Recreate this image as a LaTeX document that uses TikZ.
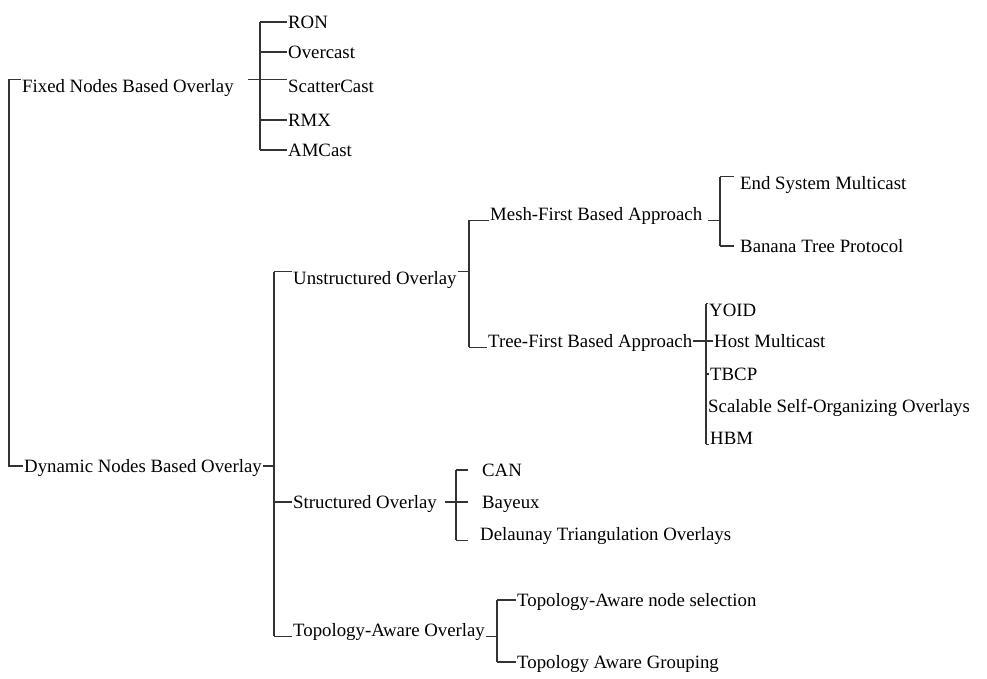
\documentclass[tikz,border=0pt]{standalone}
\usepackage{fontspec}
\setmainfont{Liberation Serif}
\begin{document}
\begin{tikzpicture}[x=1pt,y=-1pt,
  lbl/.style={anchor=west,inner xsep=1pt,inner ysep=0pt,text height=12.4pt,text depth=0pt,font=\fontsize{18.8}{22}\selectfont},
  conn/.style={line width=1.1pt,draw=black!80}]
\useasboundingbox (0,0) rectangle (987,678);
% level 1
\node[lbl] (fixed) at (21,86) {Fixed Nodes Based Overlay};
\node[lbl] (dyn) at (23,466) {Dynamic Nodes Based Overlay};
% fixed children
\node[lbl] (ron) at (287,22) {RON};
\node[lbl] (over) at (287,52) {Overcast};
\node[lbl] (scat) at (287,86) {ScatterCast};
\node[lbl] (rmx) at (287,120) {RMX};
\node[lbl] (amc) at (287,150) {AMCast};
% dynamic children
\node[lbl] (unstr) at (292,278) {Unstructured Overlay};
\node[lbl] (str) at (292,502) {Structured Overlay};
\node[lbl] (topo) at (292,630) {Topology-Aware Overlay};
% unstructured children
\node[lbl] (mesh) at (489,214) {Mesh-First Based Approach};
\node[lbl] (tree) at (487,341) {Tree-First Based Approach};
% mesh children
\node[lbl] (esm) at (739,183) {End System Multicast};
\node[lbl] (ban) at (739,246) {Banana Tree Protocol};
% tree children
\node[lbl] (yoid) at (708,310) {YOID};
\node[lbl] (host) at (713,341) {Host Multicast};
\node[lbl] (tbcp) at (709,374) {TBCP};
\node[lbl] (scal) at (707,406) {Scalable Self-Organizing Overlays};
\node[lbl] (hbm) at (709,438) {HBM};
% structured children
\node[lbl] (can) at (481,470) {CAN};
\node[lbl] (bay) at (481,502) {Bayeux};
\node[lbl] (del) at (479,534) {Delaunay Triangulation Overlays};
% topology children
\node[lbl] (tsel) at (516,600) {Topology-Aware node selection};
\node[lbl] (tgrp) at (516,662) {Topology Aware Grouping};

% junction columns
\coordinate (root) at (9,300);
\coordinate (jf) at (260,0);
\coordinate (jd) at (274,0);
\coordinate (ju) at (469,0);
\coordinate (jm) at (720,0);
\coordinate (jt) at (706,0);
\coordinate (js) at (456,0);
\coordinate (jo) at (497,0);

% root
\draw[conn] (fixed.north west) -| (root) |- (dyn.west);
% fixed
\draw[conn] ([xshift=13pt]fixed.north east) -- (scat.north west);
\draw[conn] (jf |- ron.west) -- (jf |- amc.west);
\foreach \c in {ron,over,rmx,amc} \draw[conn] (jf |- \c.west) -- (\c.west);
% dynamic
\draw[conn] (dyn.east) -- (jd |- dyn.east);
\draw[conn] (jd |- unstr.north west) -- (jd |- topo.south west);
\draw[conn] (jd |- unstr.north west) -- (unstr.north west);
\draw[conn] (jd |- str.west) -- (str.west);
\draw[conn] (jd |- topo.south west) -- (topo.south west);
% unstructured
\draw[conn] (unstr.north east) -- (ju |- unstr.north east);
\draw[conn] (ju |- mesh.south west) -- (ju |- tree.south west);
\draw[conn] (ju |- mesh.south west) -- (mesh.south west);
\draw[conn] (ju |- tree.south west) -- (tree.south west);
% mesh
\draw[conn] ([xshift=5pt]mesh.south east) -- (jm |- mesh.south east);
\draw[conn] (jm |- esm.north west) -- (jm |- ban.west);
\draw[conn] (jm |- esm.north west) -- ([xshift=-5pt]esm.north west);
\draw[conn] (jm |- ban.west) -- ([xshift=-5pt]ban.west);
% tree
\draw[conn] (tree.east) -- (host.west);
\draw[conn] (jt |- yoid.north west) -- (jt |- hbm.south west);
\draw[conn] (jt |- yoid.north west) -- (yoid.north west);
\draw[conn] (jt |- tbcp.west) -- (tbcp.west);
\draw[conn] (jt |- scal.north west) -- (scal.north west);
\draw[conn] (jt |- hbm.south west) -- (hbm.south west);
% structured
\draw[conn] ([xshift=7pt]str.east) -- ([xshift=-13pt]bay.west);
\draw[conn] (js |- can.west) -- (js |- del.south west);
\draw[conn] (js |- can.west) -- ([xshift=-13pt]can.west);
\draw[conn] (js |- del.south west) -- ([xshift=-11pt]del.south west);
% topology
\draw[conn] (topo.south east) -- (jo |- topo.south east);
\draw[conn] (jo |- tsel.west) -- (jo |- tgrp.west);
\draw[conn] (jo |- tsel.west) -- (tsel.west);
\draw[conn] (jo |- tgrp.west) -- (tgrp.west);
\end{tikzpicture}
\end{document}
